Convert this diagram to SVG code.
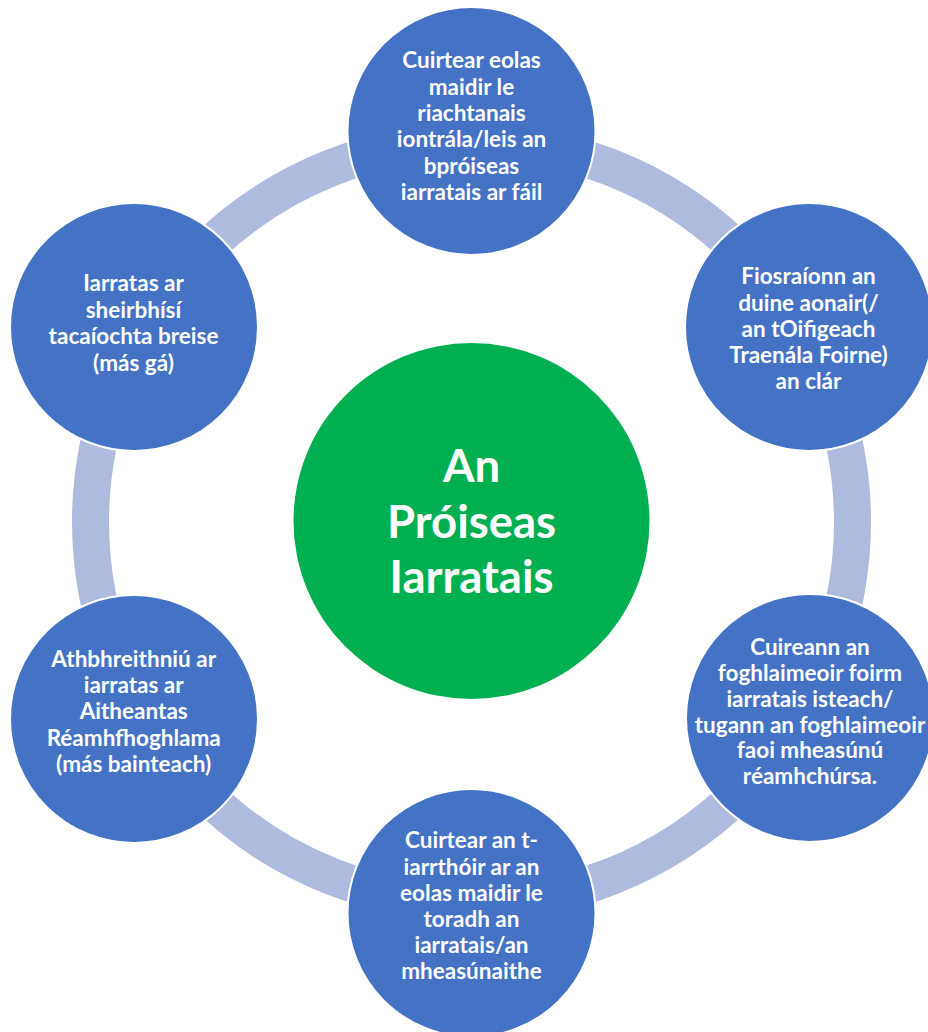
<svg xmlns="http://www.w3.org/2000/svg" width="928" height="1032" viewBox="0 0 928 1032">
<style>
.node{fill:#4472C4;stroke:#FFFFFF;stroke-width:2}
.t{font-family:Lato,"Open Sans","Liberation Sans",sans-serif;font-weight:bold;font-size:22.5px;fill:#FFFFFF;text-anchor:middle}
.ct{font-family:Lato,"Open Sans","Liberation Sans",sans-serif;font-weight:bold;font-size:45.5px;fill:#FFFFFF;text-anchor:middle}
</style>
<rect width="928" height="1032" fill="#FFFFFF"/>
<g id="connectors">
<circle cx="471.5" cy="522" r="381" fill="none" stroke="#AEBBDE" stroke-width="37"/>
</g>
<g id="center">
<circle cx="471.5" cy="521" r="178" fill="#00B050"/>
<text class="ct" x="471.5" y="482">An</text>
<text class="ct" x="471.5" y="537.5">Próiseas</text>
<text class="ct" x="471.5" y="593">Iarratais</text>
</g>
<g id="node-top">
<circle class="node" cx="471.5" cy="131" r="124"/>
<text class="t" x="471.5" y="68.3">Cuirtear eolas</text>
<text class="t" x="471.5" y="94.7">maidir le</text>
<text class="t" x="471.5" y="121">riachtanais</text>
<text class="t" x="471.5" y="147.3">iontrála/leis an</text>
<text class="t" x="471.5" y="173.7">bpróiseas</text>
<text class="t" x="471.5" y="200">iarratais ar fáil</text>
</g>
<g id="node-upper-right">
<circle class="node" cx="809" cy="327" r="124"/>
<text class="t" x="808.5" y="284.3">Fiosraíonn an</text>
<text class="t" x="808.5" y="310.5">duine aonair(/</text>
<text class="t" x="808.5" y="336.7">an tOifigeach</text>
<text class="t" x="808.5" y="363">Traenála Foirne)</text>
<text class="t" x="808.5" y="389">an clár</text>
</g>
<g id="node-lower-right">
<circle class="node" cx="810" cy="718" r="124"/>
<text class="t" x="810" y="655">Cuireann an</text>
<text class="t" x="810" y="680.7">foghlaimeoir foirm</text>
<text class="t" x="810" y="706.5">iarratais isteach/</text>
<text class="t" x="810" y="732.5">tugann an foghlaimeoir</text>
<text class="t" x="810" y="758.3">faoi mheasúnú</text>
<text class="t" x="810" y="784">réamhchúrsa.</text>
</g>
<g id="node-bottom">
<circle class="node" cx="471.5" cy="913" r="124"/>
<text class="t" x="471.5" y="848.3">Cuirtear an t-</text>
<text class="t" x="471.5" y="874.5">iarrthóir ar an</text>
<text class="t" x="471.5" y="900.7">eolas maidir le</text>
<text class="t" x="471.5" y="926.8">toradh an</text>
<text class="t" x="471.5" y="953">iarratais/an</text>
<text class="t" x="471.5" y="979.3">mheasúnaithe</text>
</g>
<g id="node-lower-left">
<circle class="node" cx="134" cy="719" r="124"/>
<text class="t" x="133.7" y="666.7">Athbhreithniú ar</text>
<text class="t" x="133.7" y="692.9">iarratas ar</text>
<text class="t" x="133.7" y="719.2">Aitheantas</text>
<text class="t" x="133.7" y="745.5">Réamhfhoghlama</text>
<text class="t" x="133.7" y="771.7">(más bainteach)</text>
</g>
<g id="node-upper-left">
<circle class="node" cx="134" cy="327" r="124"/>
<text class="t" x="133.5" y="291">Iarratas ar</text>
<text class="t" x="133.5" y="317.5">sheirbhísí</text>
<text class="t" x="133.5" y="344">tacaíochta breise</text>
<text class="t" x="133.5" y="370.5">(más gá)</text>
</g>
</svg>
